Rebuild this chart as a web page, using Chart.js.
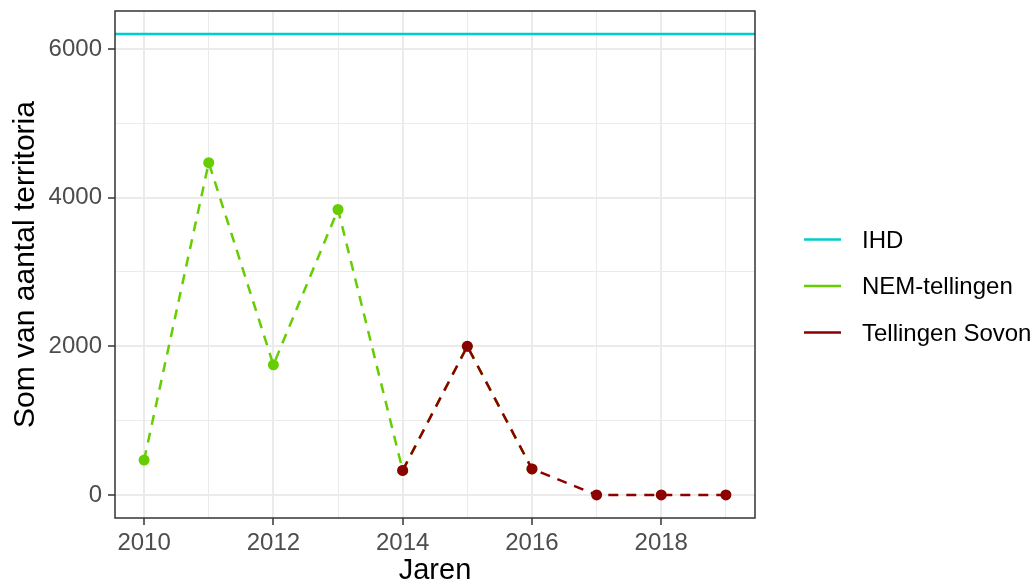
<!DOCTYPE html>
<html><head><meta charset="utf-8">
<script src="https://cdn.jsdelivr.net/npm/chart.js@4"></script>
<style>html,body{margin:0;padding:0;background:#fff}#c{display:block}</style>
</head><body>
<canvas id="c" width="1030" height="585"></canvas>
<script>
// ---- data ----
const seriesLabels = ['IHD', 'NEM-tellingen', 'Tellingen Sovon'];
const allYears = [2010, 2011, 2012, 2013, 2014, 2015, 2016, 2017, 2018, 2019];
const xTickLabels = [2010, 2012, 2014, 2016, 2018];
const yTickLabels = [0, 2000, 4000, 6000];
const yMinorTicks = [1000, 3000, 5000];
const nemYears = [2010, 2011, 2012, 2013, 2014, 2015, 2016];
const nemValues = [470, 4470, 1750, 3840, 330, 2000, 350];
const sovonYears = [2014, 2015, 2016, 2017, 2018, 2019];
const sovonValues = [330, 2000, 350, 0, 0, 0];
const ihdValue = 6200;
const xTitle = 'Jaren';
const yTitle = 'Som van aantal territoria';

// ---- styling / layout ----
const colors = ['#00CDCD', '#66CD00', '#8B0000'];
const FONT = "'Liberation Sans', Arial, sans-serif";
const xMin = 2009.55, xMax = 2019.45;
const yMin = -310, yMax = 6510;

const pts = (xs, ys) => xs.map((x, i) => ({x: x, y: ys[i]}));

const panelBorder = {
  id: 'panelBorder',
  afterDraw(chart) {
    const {ctx, chartArea: a} = chart;
    ctx.save();
    ctx.strokeStyle = '#333333';
    ctx.lineWidth = 1.5;
    ctx.strokeRect(a.left, a.top, a.right - a.left, a.bottom - a.top);
    // legend
    const ys = [239.5, 286, 332.5];
    ctx.font = '24px ' + FONT;
    ctx.textBaseline = 'middle';
    ctx.textAlign = 'left';
    chart.data.datasets.forEach((ds, i) => {
      ctx.strokeStyle = ds.borderColor;
      ctx.lineWidth = 2.5;
      ctx.beginPath();
      ctx.moveTo(804, ys[i]);
      ctx.lineTo(841, ys[i]);
      ctx.stroke();
      ctx.fillStyle = '#000000';
      ctx.fillText(ds.label, 862, ys[i] + 1.5);
    });
    ctx.restore();
  }
};

new Chart(document.getElementById('c'), {
  type: 'line',
  data: {
    datasets: [
      { label: seriesLabels[0], data: pts([xMin, xMax], [ihdValue, ihdValue]),
        borderColor: colors[0], backgroundColor: colors[0], borderWidth: 2.5,
        pointRadius: 0, order: 3 },
      { label: seriesLabels[1], data: pts(nemYears, nemValues),
        borderColor: colors[1], backgroundColor: colors[1], borderWidth: 2.5,
        borderDash: [10, 8], pointRadius: 5.5, pointBorderWidth: 0,
        pointBackgroundColor: colors[1], order: 2 },
      { label: seriesLabels[2], data: pts(sovonYears, sovonValues),
        borderColor: colors[2], backgroundColor: colors[2], borderWidth: 2.5,
        borderDash: [10, 8], pointRadius: 5.5, pointBorderWidth: 0,
        pointBackgroundColor: colors[2], order: 1 }
    ]
  },
  options: {
    responsive: false,
    animation: false,
    devicePixelRatio: 1,
    layout: { padding: { top: 11, right: 275, left: 0, bottom: 0 } },
    plugins: { legend: { display: false }, tooltip: { enabled: false } },
    elements: { line: { tension: 0 } },
    scales: {
      x: {
        type: 'linear', min: xMin, max: xMax,
        afterBuildTicks(s) { s.ticks = allYears.map(v => ({value: v})); },
        afterFit(s) { s.height = 67; s.paddingLeft = 0; s.paddingRight = 0; },
        ticks: {
          autoSkip: false, maxRotation: 0, padding: 4,
          color: '#4D4D4D', font: { family: FONT, size: 24 },
          callback: v => xTickLabels.includes(v) ? String(v) : ''
        },
        grid: {
          color: '#EBEBEB',
          lineWidth: c => (c.tick && xTickLabels.includes(c.tick.value)) ? 2 : 1,
          tickColor: c => (c.tick && xTickLabels.includes(c.tick.value)) ? '#333333' : 'rgba(0,0,0,0)',
          tickLength: 7, tickWidth: 1.5
        },
        border: { display: false },
        title: { display: true, text: xTitle, color: '#000000',
                 font: { family: FONT, size: 29 }, padding: { top: 0, bottom: -3 } }
      },
      y: {
        type: 'linear', min: yMin, max: yMax,
        afterBuildTicks(s) {
          s.ticks = yTickLabels.concat(yMinorTicks).sort((a, b) => a - b).map(v => ({value: v}));
        },
        afterFit(s) { s.width = 115; s.paddingTop = 0; s.paddingBottom = 0; },
        ticks: {
          autoSkip: false, padding: 6,
          color: '#4D4D4D', font: { family: FONT, size: 24 },
          callback: v => yTickLabels.includes(v) ? String(v) : ''
        },
        grid: {
          color: '#EBEBEB',
          lineWidth: c => (c.tick && yTickLabels.includes(c.tick.value)) ? 2 : 1,
          tickColor: c => (c.tick && yTickLabels.includes(c.tick.value)) ? '#333333' : 'rgba(0,0,0,0)',
          tickLength: 7, tickWidth: 1.5
        },
        border: { display: false },
        title: { display: true, text: yTitle, color: '#000000',
                 font: { family: FONT, size: 30 }, padding: { top: 8, bottom: 0 } }
      }
    }
  },
  plugins: [panelBorder]
});
</script>
</body></html>
